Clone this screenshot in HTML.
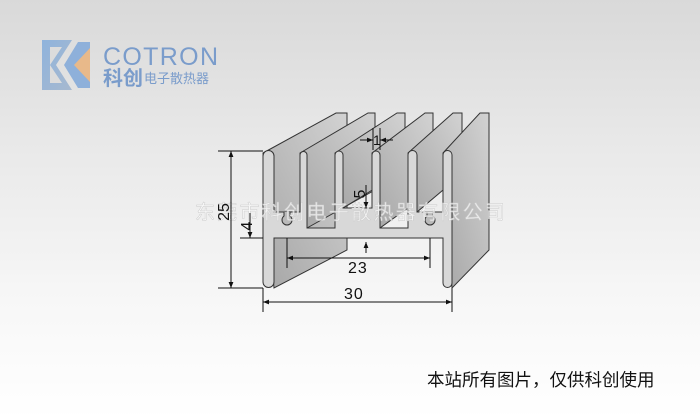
<!DOCTYPE html>
<html><head><meta charset="utf-8"><style>
html,body{margin:0;padding:0}
body{width:700px;height:419px;overflow:hidden;background:linear-gradient(#d9d9d9 0px,#e9e9e9 150px,#f7f7f7 300px,#ffffff 419px);position:relative;font-family:"Liberation Sans","Noto Sans CJK SC",sans-serif}
</style></head><body>
<svg width="700" height="419" viewBox="0 0 700 419" style="position:absolute;left:0;top:0">
<defs>
<linearGradient id="sf" x1="0" y1="1" x2="1" y2="0"><stop offset="0" stop-color="#a6a6a6"/><stop offset="1" stop-color="#d2d2d2"/></linearGradient>
<linearGradient id="lg1" x1="0" y1="0" x2="1" y2="1"><stop offset="0" stop-color="#8fb3dc"/><stop offset="1" stop-color="#a7b9cf"/></linearGradient>
<marker id="a" viewBox="0 0 10 10" refX="10" refY="5" markerWidth="7" markerHeight="6" orient="auto-start-reverse"><path d="M0,1 L10,5 L0,9 Z" fill="#111"/></marker>
</defs>
<!-- logo -->
<path d="M42,40 L72,40 L56,65 L72,90 L42,90 Z" fill="url(#lg1)"/>
<path d="M50,47 L62,47 L50,65 L62,83 L50,83 Z" fill="#dcdcdc"/>
<path d="M78,42 L90,42 L90,88 L78,88 L64,65 Z" fill="#8eb0da"/>
<path d="M90,48 L74,65 L90,82 Z" fill="#e8b98a"/>
<text x="103" y="65" font-size="25" fill="#7a9ccb" font-family="Liberation Sans,sans-serif" textLength="115">COTRON</text>
<text x="103" y="85" font-size="20" font-weight="bold" fill="#7a9ccb" font-family="Liberation Sans,Noto Sans CJK SC,sans-serif">科创</text>
<text x="144" y="83" font-size="13" fill="#7a9ccb" font-family="Liberation Sans,Noto Sans CJK SC,sans-serif">电子散热器</text>

<!-- side faces -->
<g stroke="#333" stroke-width="1" fill="url(#sf)">
<polygon points="263,153 336,113 347,113 347,250 274,288"/>
<polygon points="300,153 368,113 375,113 375,190 307,228"/>
<polygon points="335,153 397,113 405,113 405,170 343,208"/>
<polygon points="372,153 425,113 433,113 433,190 380,228"/>
<polygon points="408,153 453,113 462,113 462,174 417,212"/>
<polygon points="443,153 480,113 489,113 489,250 452,288"/>
</g>
<!-- front profile -->
<path d="M263,156 A5.5,5.5 0 0 1 274,156 L274,212 L300,212 L300,155 A3.5,3.5 0 0 1 307,155 L307,228 L335,228 L335,155 A4,4 0 0 1 343,155 L343,208 L372,208 L372,155 A4,4 0 0 1 380,155 L380,228 L408,228 L408,155 A4.5,4.5 0 0 1 417,155 L417,212 L443,212 L443,155 A4.5,4.5 0 0 1 452,155 L452,283 A4.5,4.5 0 0 1 443,283 L443,238 L274,238 L274,282 A5.5,5.5 0 0 1 263,282 Z" fill="#d8d8d8" stroke="#333" stroke-width="1"/>
<path d="M284,212 L284,216 A5,5 0 1 0 290,216 L290,212" fill="#b9b9b9" stroke="#333"/>
<path d="M427,212 L427,216 A5,5 0 1 0 433,216 L433,212" fill="#b9b9b9" stroke="#333"/>

<!-- watermark -->
<text x="195" y="219" font-size="20" fill="#ffffff" fill-opacity="0.7" stroke="#cccccc" stroke-width="0.5" font-family="Liberation Sans,Noto Sans CJK SC,sans-serif" textLength="310">东莞市科创电子散热器有限公司</text>

<!-- dimensions -->
<g stroke="#111" stroke-width="1" fill="none">
<line x1="218" y1="151" x2="263" y2="151"/><line x1="218" y1="288" x2="263" y2="288"/>
<line x1="231" y1="151" x2="231" y2="288" marker-start="url(#a)" marker-end="url(#a)"/>
<line x1="240" y1="238" x2="263" y2="238"/>
<line x1="250" y1="213" x2="250" y2="238" marker-end="url(#a)"/>
<line x1="287" y1="238" x2="287" y2="268"/><line x1="430" y1="238" x2="430" y2="268"/>
<line x1="287" y1="258" x2="430" y2="258" marker-start="url(#a)" marker-end="url(#a)"/>
<line x1="366" y1="253" x2="366" y2="242" marker-end="url(#a)"/>
<line x1="263" y1="288" x2="263" y2="312"/><line x1="452" y1="288" x2="452" y2="312"/>
<line x1="263" y1="302" x2="452" y2="302" marker-start="url(#a)" marker-end="url(#a)"/>
<line x1="366" y1="185" x2="366" y2="208" marker-end="url(#a)"/>
<line x1="373" y1="128" x2="373" y2="150"/><line x1="380" y1="128" x2="380" y2="150"/>
<line x1="360" y1="140" x2="373" y2="140" marker-end="url(#a)"/>
<line x1="393" y1="140" x2="380" y2="140" marker-end="url(#a)"/>
</g>
<g font-family="Liberation Sans,sans-serif" font-size="16" fill="#111">
<text x="0" y="0" transform="translate(229,212) rotate(-90)" text-anchor="middle">25</text>
<text x="0" y="0" transform="translate(252,226) rotate(-90)" text-anchor="middle">4</text>
<text x="0" y="0" transform="translate(365,194) rotate(-90)" text-anchor="middle">5</text>
<text x="348" y="273" letter-spacing="1">23</text>
<text x="344" y="299" letter-spacing="1">30</text>
<text x="373" y="145" font-size="14">1</text>
</g>
<text x="427" y="386" font-size="17.5" fill="#111" font-family="Liberation Sans,Noto Sans CJK SC,sans-serif">本站所有图片，仅供科创使用</text>
</svg>
</body></html>
